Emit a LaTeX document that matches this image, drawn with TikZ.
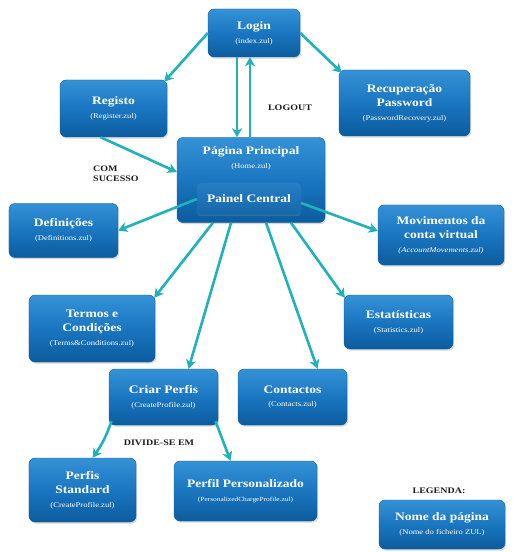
\documentclass[tikz,border=0pt]{standalone}
\usepackage{fontspec}
\setmainfont{Liberation Serif}[FakeStretch=1.18]
\usetikzlibrary{arrows.meta,shadows,calc}
\definecolor{boxtop}{HTML}{3592D6}
\definecolor{boxmid}{HTML}{1A76C0}
\definecolor{boxbot}{HTML}{0B5C9E}
\definecolor{boxedge}{HTML}{0E5F9F}
\definecolor{arrcol}{HTML}{20B2BA}
\definecolor{lblcol}{HTML}{1E1E1E}
\tikzset{
  page/.style={rounded corners=6bp, top color=boxtop, bottom color=boxbot,
    middle color=boxmid, draw=boxedge, line width=0.4bp, text=white, align=center,
    inner sep=2bp,
    font=\fontsize{11.5}{14}\selectfont\bfseries,
    drop shadow={shadow xshift=1.2bp, shadow yshift=-1.6bp, fill=black!35, opacity=0.45}},
  inner/.style={rounded corners=4bp, top color=boxmid!95!white, bottom color=boxmid!88!black,
    draw=none, text=white, align=center, inner sep=2bp,
    font=\fontsize{11.5}{14}\selectfont\bfseries,
    drop shadow={shadow xshift=0bp, shadow yshift=-1.2bp, fill=black!40, opacity=0.3}},
  arr/.style={draw=arrcol, line width=2.6bp, -{Stealth[length=9bp,width=10bp,inset=2.5bp]}},
  lbl/.style={text=lblcol, font=\fontsize{8.5}{10.5}\selectfont\bfseries, inner sep=0pt},
}
\newcommand{\zul}[1]{{\fontsize{7.3}{10}\selectfont\mdseries #1}}
\begin{document}
\begin{tikzpicture}[x=1bp,y=-1bp]
\path[use as bounding box, fill=white] (0,0) rectangle (513,552);

\node[page, minimum width=92bp, minimum height=48bp] (login) at (254,33) {Login\\\zul{(index.zul)}};
\node[page, minimum width=107bp, minimum height=57bp] (reg) at (113.5,108.5) {Registo\\\zul{(Register.zul)}};
\node[page, minimum width=131bp, minimum height=66bp] (rec) at (404.5,103) {Recuperação\\Password\\\zul{(PasswordRecovery.zul)}};
\node[page, minimum width=148bp, minimum height=85bp] (home) at (251,180) {};
\node[text=white, align=center, font=\fontsize{11.5}{14}\selectfont\bfseries] (hometitle) at (251,158) {Página Principal\\\zul{(Home.zul)}};
\node[inner, minimum width=104bp, minimum height=32bp] (painel) at (249,199) {Painel Central};
\node[page, minimum width=109bp, minimum height=54bp] (def) at (63.5,230.5) {Definições\\\zul{(Definitions.zul)}};
\node[page, minimum width=126bp, minimum height=60bp] (mov) at (441,235) {Movimentos da\\conta virtual\\\zul{\itshape(AccountMovements.zul)}};
\node[page, minimum width=126bp, minimum height=67bp] (term) at (92,328.5) {Termos e\\Condições\\\zul{(Terms\&Conditions.zul)}};
\node[page, minimum width=109bp, minimum height=54bp] (est) at (398.5,322) {Estatísticas\\\zul{(Statistics.zul)}};
\node[page, minimum width=109bp, minimum height=56bp] (criar) at (163.5,397) {Criar Perfis\\\zul{(CreateProfile.zul)}};
\node[page, minimum width=109bp, minimum height=56bp] (cont) at (292.5,397) {Contactos\\\zul{(Contacts.zul)}};
\node[page, minimum width=107bp, minimum height=64bp] (std) at (82.5,490) {Perfis\\Standard\\\zul{(CreateProfile.zul)}};
\node[page, minimum width=143bp, minimum height=60bp] (pers) at (245.5,491) {Perfil Personalizado\\{\fontsize{6.3}{10}\selectfont\mdseries (PersonalizedChargeProfile.zul)}};
\node[page, minimum width=126bp, minimum height=49bp] (leg) at (442,524.5) {Nome da página\\\zul{(Nome do ficheiro ZUL)}};

\node[lbl] (legtitle) at (439,491) {LEGENDA:};
\node[lbl] (logout) at (290,108) {LOGOUT};
\node[lbl, align=left, anchor=west] (com) at (93,174) {COM\\SUCESSO};
\node[lbl] (divide) at (159,443) {DIVIDE-SE EM};

\draw[arr] (login.west) -- ([xshift=-3bp,yshift=-2bp]reg.north east);
\draw[arr] (login.east) -- ([xshift=3bp,yshift=-3bp]rec.north west);
\draw[arr] ([xshift=-17bp]login.south) -- ([xshift=-17bp]login.south |- home.north);
\draw[arr] ([xshift=-1bp]home.north) -- ([xshift=-1bp]home.north |- login.south);
\draw[arr] ([xshift=-13bp]reg.south) -- ([yshift=8bp]home.west);
\draw[arr] (painel.west) -- (def.east);
\draw[arr] ([yshift=-4bp]painel.east) -- ([yshift=4bp]mov.west);
\draw[arr] ([xshift=-38bp]home.south) -- ([xshift=-1bp,yshift=-3bp]term.north east);
\draw[arr] ([xshift=-20bp]home.south) -- ([xshift=25bp]criar.north);
\draw[arr] ([xshift=15bp]home.south) -- ([xshift=25bp]cont.north);
\draw[arr] ([xshift=40bp]home.south) -- ([xshift=1bp,yshift=-3bp]est.north west);
\draw[arr] ([xshift=-52bp,yshift=4bp]criar.south) to[bend left=8] ([xshift=10bp]std.north);
\draw[arr] ([xshift=52bp,yshift=4bp]criar.south) -- ([xshift=-15bp]pers.north);
\end{tikzpicture}
\end{document}
